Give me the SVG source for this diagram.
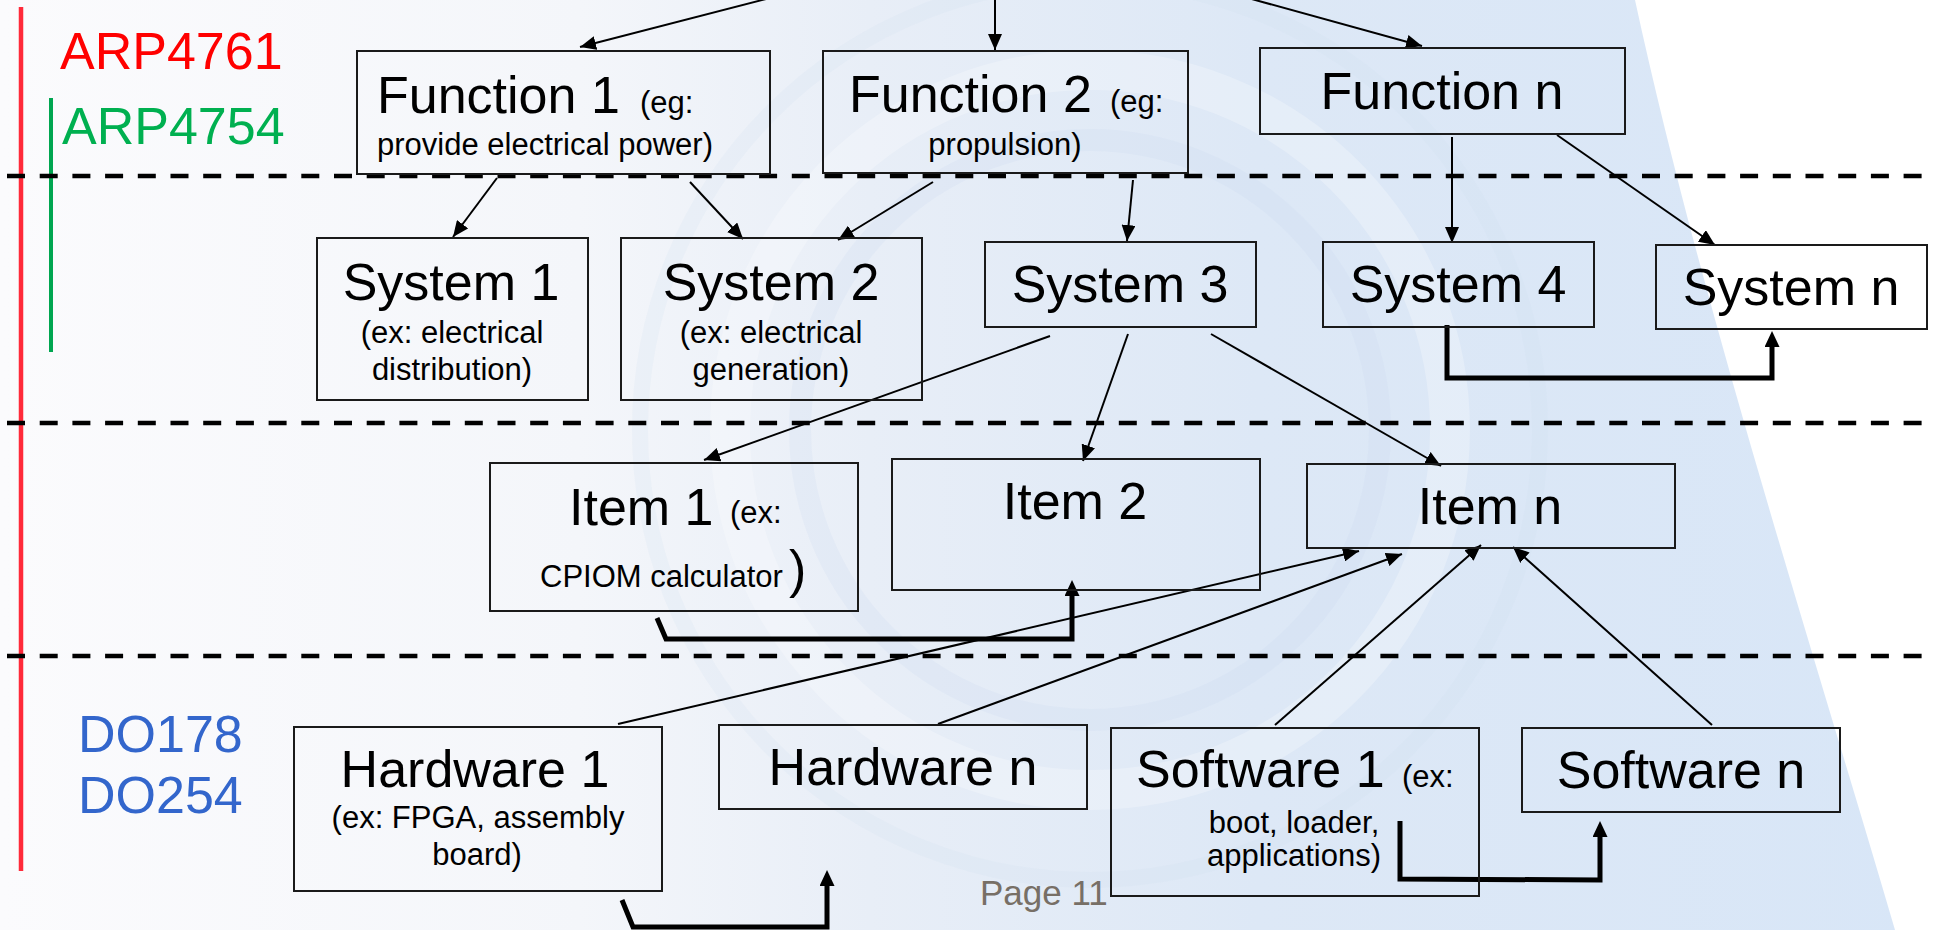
<svg xmlns="http://www.w3.org/2000/svg" width="1933" height="930" viewBox="0 0 1933 930">
<style>
text{font-family:"Liberation Sans",Arial,sans-serif;fill:#000}
.big{font-size:52px}
.sm{font-size:31px}
.box{fill:none;stroke:#1a1a1a;stroke-width:2}
.conn{fill:none;stroke:#000;stroke-width:2;marker-end:url(#arr)}
.thick{fill:none;stroke:#000;stroke-width:5;stroke-linejoin:miter;marker-end:url(#arrT)}
.dash{stroke:#000;stroke-width:4.5;stroke-dasharray:18 14.7}
</style>
<defs>
<marker id="arr" markerUnits="userSpaceOnUse" markerWidth="16" markerHeight="14" viewBox="0 0 16 14" refX="16" refY="7" orient="auto"><path d="M0,0 L16,7 L0,14 Z" fill="#000"/></marker>
<marker id="arrT" markerUnits="userSpaceOnUse" markerWidth="16" markerHeight="15" viewBox="0 0 16 15" refX="0" refY="7.5" orient="auto"><path d="M0,0 L16,7.5 L0,15 Z" fill="#000"/></marker>
<linearGradient id="bg" x1="0" y1="0" x2="1933" y2="0" gradientUnits="userSpaceOnUse">
<stop offset="0" stop-color="#fbfbfd"/>
<stop offset="0.3" stop-color="#f4f6fa"/>
<stop offset="0.45" stop-color="#e8eef7"/>
<stop offset="0.65" stop-color="#dde8f6"/>
<stop offset="1" stop-color="#d8e6f7"/>
</linearGradient>
</defs>
<g id="background">
<rect width="1933" height="930" fill="#ffffff"/>
<path d="M0,0 L1635,0 C1700,300 1810,640 1895,930 L0,930 Z" fill="url(#bg)"/>
<circle cx="1090" cy="430" r="360" fill="none" stroke="#ffffff" stroke-width="40" stroke-opacity="0.25"/>
<circle cx="1090" cy="430" r="290" fill="none" stroke="#c9d9ee" stroke-width="22" stroke-opacity="0.2"/>
<circle cx="1090" cy="430" r="450" fill="none" stroke="#cddcf0" stroke-width="16" stroke-opacity="0.18"/>
</g>
<g id="standards">
<line x1="21" y1="7" x2="21" y2="871" stroke="#ff2a3a" stroke-width="4.5"/>
<line x1="51" y1="98" x2="51" y2="352" stroke="#00a650" stroke-width="4"/>
<text x="60" y="69" style="font-size:52px;fill:#ff0000">ARP4761</text>
<text x="62" y="144" style="font-size:52px;fill:#00b050">ARP4754</text>
<text x="78" y="752" style="font-size:52px;fill:#3366cc">DO178</text>
<text x="78" y="813" style="font-size:52px;fill:#3366cc">DO254</text>
</g>
<g id="levels">
<line class="dash" x1="7" y1="176" x2="1933" y2="176"/>
<line class="dash" x1="7" y1="423" x2="1933" y2="423"/>
<line class="dash" x1="7" y1="656" x2="1933" y2="656"/>
</g>
<g id="connectors">
<path class="conn" d="M770,-2 L580,47"/>
<path class="conn" d="M995,-2 L995,50"/>
<path class="conn" d="M1248,-2 L1422,46"/>
<path class="conn" d="M497,178 L453,237"/>
<path class="conn" d="M690,182 L743,239"/>
<path class="conn" d="M933,182 L838,240"/>
<path class="conn" d="M1133,180 L1127,241"/>
<path class="conn" d="M1452,137 L1452,243"/>
<path class="conn" d="M1557,135 L1715,245"/>
<path class="conn" d="M1050,336 L704,460"/>
<path class="conn" d="M1128,334 L1083,461"/>
<path class="conn" d="M1211,334 L1441,466"/>
<path class="conn" d="M618,724 L1359,551"/>
<path class="conn" d="M938,724 L1402,554"/>
<path class="conn" d="M1275,725 L1481,545"/>
<path class="conn" d="M1712,725 L1513,547"/>
<path class="thick" d="M1447,325 L1447,378 L1772,378 L1772,347"/>
<path class="thick" d="M657,618 L666,639 L1072,639 L1072,596"/>
<path class="thick" d="M622,900 L633,927 L827,927 L827,886"/>
<path class="thick" d="M1400,821 L1400,879 L1600,880 L1600,837"/>
</g>
<g id="function1">
<rect class="box" x="357" y="51" width="413" height="123"/>
<text class="big" x="377" y="113">Function 1</text>
<text class="sm" x="640" y="113">(eg:</text>
<text class="sm" x="377" y="155">provide electrical power)</text>
</g>
<g id="function2">
<rect class="box" x="823" y="51" width="365" height="122"/>
<text class="big" x="849" y="112">Function 2</text>
<text class="sm" x="1110" y="112">(eg:</text>
<text class="sm" x="1005" y="155" text-anchor="middle">propulsion)</text>
</g>
<g id="functionN">
<rect class="box" x="1260" y="48" width="365" height="86"/>
<text class="big" x="1442" y="109" text-anchor="middle">Function n</text>
</g>
<g id="system1">
<rect class="box" x="317" y="238" width="271" height="162"/>
<text class="big" x="451" y="300" text-anchor="middle">System 1</text>
<text class="sm" x="452" y="343" text-anchor="middle">(ex: electrical</text>
<text class="sm" x="452" y="380" text-anchor="middle">distribution)</text>
</g>
<g id="system2">
<rect class="box" x="621" y="238" width="301" height="162"/>
<text class="big" x="771" y="300" text-anchor="middle">System 2</text>
<text class="sm" x="771" y="343" text-anchor="middle">(ex: electrical</text>
<text class="sm" x="771" y="380" text-anchor="middle">generation)</text>
</g>
<g id="system3">
<rect class="box" x="985" y="242" width="271" height="85"/>
<text class="big" x="1120" y="302" text-anchor="middle">System 3</text>
</g>
<g id="system4">
<rect class="box" x="1323" y="242" width="271" height="85"/>
<text class="big" x="1458" y="302" text-anchor="middle">System 4</text>
</g>
<g id="systemN">
<rect class="box" x="1656" y="245" width="271" height="84"/>
<text class="big" x="1791" y="305" text-anchor="middle">System n</text>
</g>
<g id="item1">
<rect class="box" x="490" y="463" width="368" height="148"/>
<text class="big" x="569" y="525">Item 1</text>
<text class="sm" x="730" y="523">(ex:</text>
<text class="sm" x="540" y="587">CPIOM calculator</text>
<text class="big" x="789" y="587">)</text>
</g>
<g id="item2">
<rect class="box" x="892" y="459" width="368" height="131"/>
<text class="big" x="1075" y="519" text-anchor="middle">Item 2</text>
</g>
<g id="itemN">
<rect class="box" x="1307" y="464" width="368" height="84"/>
<text class="big" x="1490" y="524" text-anchor="middle">Item n</text>
</g>
<g id="hardware1">
<rect class="box" x="294" y="727" width="368" height="164"/>
<text class="big" x="475" y="787" text-anchor="middle">Hardware 1</text>
<text class="sm" x="478" y="828" text-anchor="middle">(ex: FPGA, assembly</text>
<text class="sm" x="477" y="865" text-anchor="middle">board)</text>
</g>
<g id="hardwareN">
<rect class="box" x="719" y="725" width="368" height="84"/>
<text class="big" x="903" y="785" text-anchor="middle">Hardware n</text>
</g>
<g id="software1">
<rect class="box" x="1111" y="728" width="368" height="168"/>
<text class="big" x="1136" y="787">Software 1</text>
<text class="sm" x="1402" y="787">(ex:</text>
<text class="sm" x="1294" y="833" text-anchor="middle">boot, loader,</text>
<text class="sm" x="1294" y="866" text-anchor="middle">applications)</text>
</g>
<g id="softwareN">
<rect class="box" x="1522" y="728" width="318" height="84"/>
<text class="big" x="1681" y="788" text-anchor="middle">Software n</text>
</g>
<g id="footer">
<text x="980" y="905" style="font-size:35px;fill:#776f66">Page 11</text>
</g>
</svg>
